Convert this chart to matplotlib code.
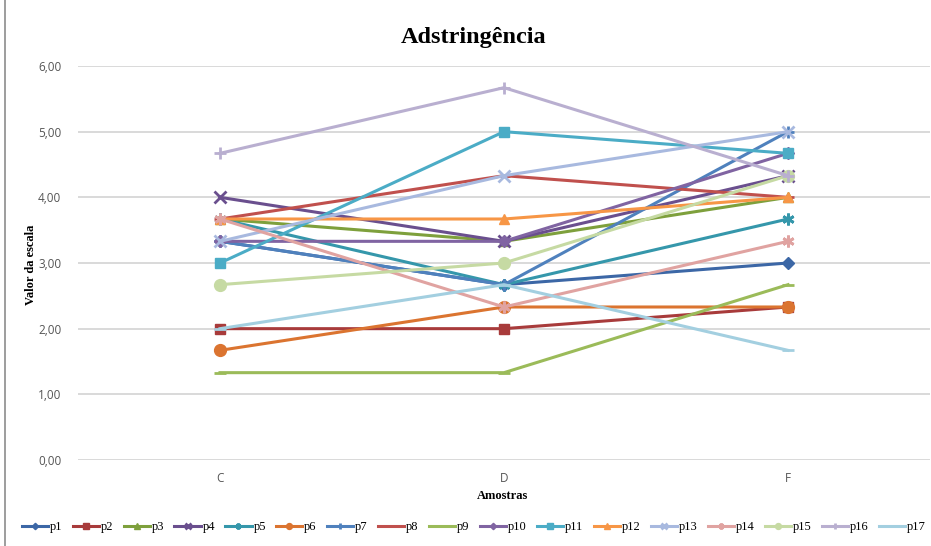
import matplotlib
matplotlib.use("Agg")
import matplotlib.pyplot as plt
from matplotlib.lines import Line2D
from matplotlib.ticker import FuncFormatter

# Sample categories and panel scores
categories = ["C", "D", "F"]
series_names = ["p1", "p2", "p3", "p4", "p5", "p6", "p7", "p8", "p9",
                "p10", "p11", "p12", "p13", "p14", "p15", "p16", "p17"]

p1 = [3.33, 2.67, 3.00]
p2 = [2.00, 2.00, 2.33]
p3 = [3.67, 3.33, 4.00]
p4 = [4.00, 3.33, 4.33]
p5 = [3.67, 2.67, 3.67]
p6 = [1.67, 2.33, 2.33]
p7 = [3.33, 2.67, 5.00]
p8 = [3.67, 4.33, 4.00]
p9 = [1.33, 1.33, 2.67]
p10 = [3.33, 3.33, 4.67]
p11 = [3.00, 5.00, 4.67]
p12 = [3.67, 3.67, 4.00]
p13 = [3.33, 4.33, 5.00]
p14 = [3.67, 2.33, 3.33]
p15 = [2.67, 3.00, 4.33]
p16 = [4.67, 5.67, 4.33]
p17 = [2.00, 2.67, 1.67]

values = [p1, p2, p3, p4, p5, p6, p7, p8, p9,
          p10, p11, p12, p13, p14, p15, p16, p17]

yticks = [0, 1, 2, 3, 4, 5, 6]

colors = ["#3C67A6", "#A83B3B", "#7EA03C", "#6A4F8E", "#3597AB", "#DB7430",
          "#4F81BD", "#C0504D", "#9BBB59", "#8064A2", "#4BACC6", "#F79646",
          "#A8B9DF", "#E0A3A1", "#C6DAA3", "#B9AFD0", "#A3CFE0"]

star = (6, 2, 0)
markers = ["D", "s", "^", "x", star, "o", "+", "_", "_",
           "D", "s", "^", "x", star, "o", "+", "_"]
msizes = [6.5, 7.5, 7.5, 8.5, 8.5, 8.5, 9, 8, 8,
          6.5, 7.5, 7.5, 8.5, 8.5, 8.5, 9, 8]

fig = plt.figure(figsize=(9.31, 5.46), dpi=100)
ax = fig.add_axes([78 / 931, 86 / 546, 852 / 931, 394 / 546])

x = list(range(len(categories)))
for name, vals, c, m, ms in zip(series_names, values, colors, markers, msizes):
    filled = m not in ("x", "+", "_", star)
    ax.plot(x, vals, color=c, lw=2.2, marker=m, ms=ms,
            mfc=c, mec=c, mew=2.0 if not filled else 1.0,
            label=name, solid_joinstyle="round")

ax.set_xlim(-0.5, 2.5)
ax.set_ylim(0, 6)
ax.set_yticks(yticks)
ax.yaxis.set_major_formatter(FuncFormatter(lambda v, _: f"{v:.2f}".replace(".", ",")))
ax.set_xticks(x)
ax.set_xticklabels(categories)
ax.grid(axis="y", color="#D0D0D0", lw=1.1)
ax.set_axisbelow(True)
for s in ax.spines.values():
    s.set_visible(False)
ax.tick_params(length=0, labelsize=8.5, colors="#555555", pad=12)
ax.tick_params(axis="x", pad=9)
for lab in ax.get_xticklabels() + ax.get_yticklabels():
    lab.set_fontfamily("Open Sans")

fig.text(474 / 931, 1 - 37 / 546, "Adstringência", ha="center", va="center",
         fontsize=17.5, fontweight="bold", family="Liberation Serif")
fig.text(502 / 931, 1 - 496 / 546, "Amostras", ha="center", va="center",
         fontsize=9, fontweight="bold", family="Liberation Serif")
fig.text(31 / 931, 1 - 265 / 546, "Valor da escala", ha="center", va="center",
         rotation=90, fontsize=9, fontweight="bold", family="Liberation Serif")

# chart frame edge on the left
fig.add_artist(Line2D([5 / 931, 5 / 931], [0, 1], transform=fig.transFigure,
                      color="#8C8C8C", lw=1.2))

handles, labels = ax.get_legend_handles_labels()
leg = fig.legend(handles, labels, loc="center", bbox_to_anchor=(474 / 931, 1 - 527 / 546),
                 ncol=17, frameon=False, markerscale=0.5,
                 handlelength=2.1, handletextpad=0.15, columnspacing=0.82,
                 borderpad=0.2, prop={"family": "Liberation Serif", "size": 9})

fig.savefig("out.png", dpi=100, facecolor="white")
